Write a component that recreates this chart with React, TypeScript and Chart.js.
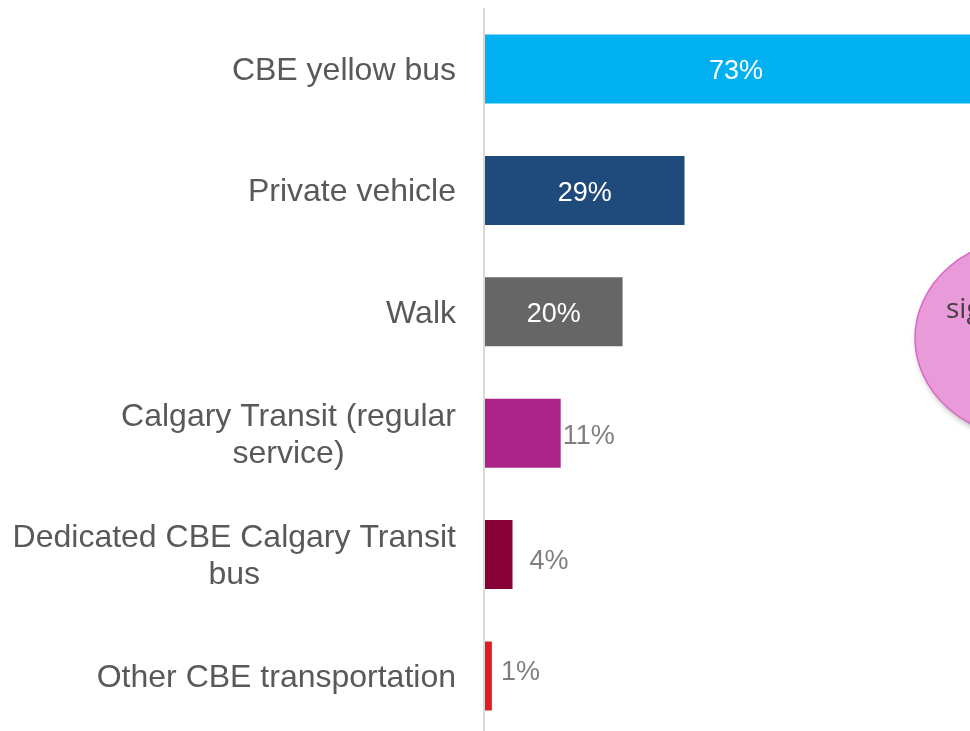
import React, { useEffect, useRef } from "react";
import { Chart, registerables } from "chart.js";

Chart.register(...registerables);

// ---- data ----
const categories: string[][] = [
  ["CBE yellow bus"],
  ["Private vehicle"],
  ["Walk"],
  ["Calgary Transit (regular", "service)"],
  ["Dedicated CBE Calgary Transit", "bus"],
  ["Other CBE transportation"],
];
const values: number[] = [73, 29, 20, 11, 4, 1];
const valueLabels: string[] = ["73%", "29%", "20%", "11%", "4%", "1%"];
const calloutText = "significantly";

// ---- styles ----
const barColors = ["#00b0f0", "#1f4a7c", "#666666", "#ab2288", "#890036", "#e31b23"];
const insideThreshold = 15;
// small per-label nudges [dx, dy] for labels placed outside bars
const outsideNudge: [number, number][] = [[0, 0], [0, 0], [0, 0], [2, 0], [17, 4], [9, -6]];
const FONT = "'Liberation Sans', Arial, sans-serif";

export default function App() {
  const canvasRef = useRef<HTMLCanvasElement | null>(null);

  useEffect(() => {
    const canvas = canvasRef.current;
    if (!canvas) return;

    const decorPlugin = {
      id: "decor",
      beforeDatasetsDraw(chart: any) {
        const { ctx, chartArea } = chart;
        ctx.save();
        ctx.fillStyle = "#d9d9d9";
        ctx.fillRect(chartArea.left - 2, 8, 2, chart.height - 8);
        ctx.restore();
      },
      afterDatasetsDraw(chart: any) {
        const { ctx } = chart;
        const xScale = chart.scales.x;
        const yScale = chart.scales.y;
        const meta = chart.getDatasetMeta(0);
        ctx.save();
        // value labels
        ctx.font = `27px ${FONT}`;
        ctx.textBaseline = "middle";
        values.forEach((v, i) => {
          const el = meta.data[i];
          const y = el.y;
          const base = xScale.getPixelForValue(0);
          const end = xScale.getPixelForValue(v);
          if (v >= insideThreshold) {
            ctx.fillStyle = "#ffffff";
            ctx.textAlign = "center";
            ctx.fillText(valueLabels[i], (base + end) / 2, y + 3);
          } else {
            const [dx, dy] = outsideNudge[i];
            ctx.fillStyle = "#7f7f7f";
            ctx.textAlign = "left";
            ctx.fillText(valueLabels[i], end + dx, y + dy + 3);
          }
        });
        // category labels
        ctx.font = `32px ${FONT}`;
        ctx.fillStyle = "#595959";
        ctx.textAlign = "center";
        const rightEdge = chart.chartArea.left - 29;
        const lineH = 37;
        categories.forEach((lines, i) => {
          const cy = yScale.getPixelForValue(i);
          const widest = Math.max(...lines.map((l) => ctx.measureText(l).width));
          const cx = rightEdge - widest / 2;
          lines.forEach((l, j) => {
            ctx.fillText(l, cx, cy + (j - (lines.length - 1) / 2) * lineH + 2);
          });
        });
        ctx.restore();

        // callout ellipse
        ctx.save();
        ctx.beginPath();
        ctx.ellipse(1030, 338, 115, 100, 0, 0, Math.PI * 2);
        ctx.shadowColor = "rgba(0,0,0,0.35)";
        ctx.shadowBlur = 6;
        ctx.shadowOffsetX = 2;
        ctx.shadowOffsetY = 3;
        ctx.fillStyle = "#e89bd8";
        ctx.fill();
        ctx.shadowColor = "transparent";
        ctx.lineWidth = 1.5;
        ctx.strokeStyle = "#d967c8";
        ctx.stroke();
        ctx.fillStyle = "#404040";
        ctx.font = `28px 'Open Sans', ${FONT}`;
        ctx.textAlign = "left";
        ctx.textBaseline = "alphabetic";
        ctx.fillText(calloutText, 946, 318);
        ctx.restore();
      },
    };

    const chart = new Chart(canvas, {
      type: "bar",
      data: {
        labels: categories.map((c) => c.join(" ")),
        datasets: [
          {
            data: values,
            backgroundColor: barColors,
            borderWidth: 0,
            barPercentage: 0.568,
            categoryPercentage: 1,
          },
        ],
      },
      options: {
        indexAxis: "y",
        responsive: false,
        animation: false,
        layout: { padding: { left: 485, right: 0, top: 8.3, bottom: 3.3 } },
        scales: {
          x: { display: false, min: 0, max: 70.5 },
          y: { display: false },
        },
        plugins: {
          legend: { display: false },
          tooltip: { enabled: false },
        },
      },
      plugins: [decorPlugin],
    });
    return () => chart.destroy();
  }, []);

  return (
    <div style={{ position: "fixed", left: 0, top: 0, width: 970, height: 740, background: "#ffffff", overflow: "hidden" }}>
      <canvas ref={canvasRef} width={970} height={740} style={{ display: "block" }} />
    </div>
  );
}
